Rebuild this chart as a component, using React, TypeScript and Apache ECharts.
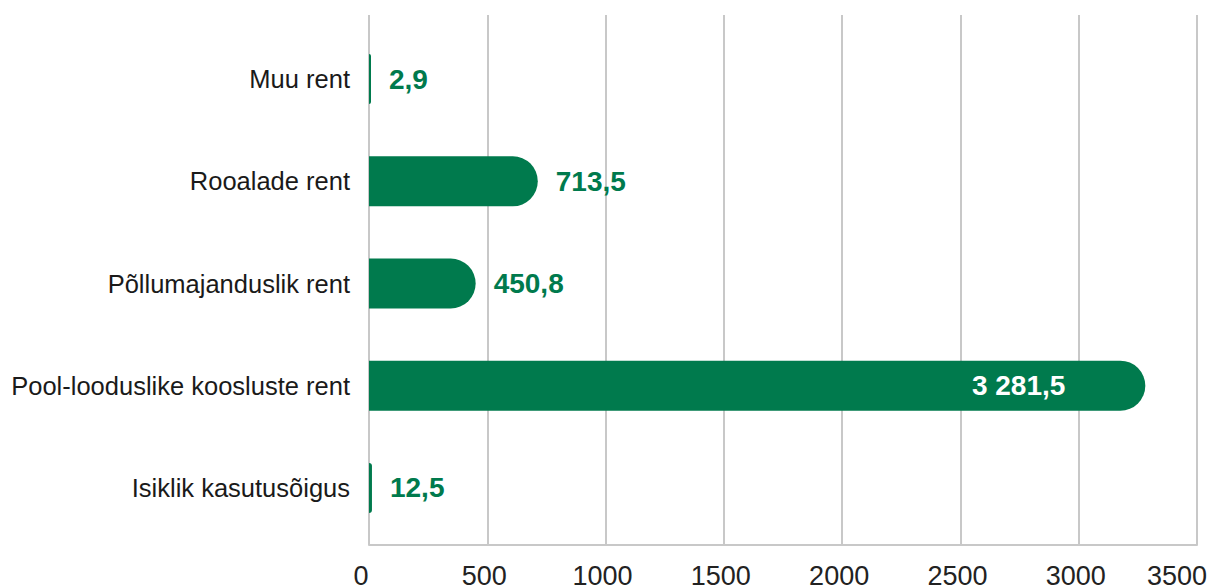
import React, { useEffect, useRef } from "react";
import * as echarts from "echarts";

const categories = [
  "Muu rent",
  "Rooalade rent",
  "Põllumajanduslik rent",
  "Pool-looduslike koosluste rent",
  "Isiklik kasutusõigus",
];
const values = [2.9, 713.5, 450.8, 3281.5, 12.5];
const insideLabelIndex = [3];
const xTicks = [0, 500, 1000, 1500, 2000, 2500, 3000, 3500];

const GREEN = "#007A4D";
const FONT = "'Liberation Sans', Arial, sans-serif";

function fmt(v: number): string {
  const s = v.toFixed(1);
  const [intPart, dec] = s.split(".");
  const withSep = intPart.replace(/\B(?=(\d{3})+(?!\d))/g, " ");
  return withSep + "," + dec;
}

export default function App() {
  const ref = useRef<HTMLDivElement>(null);
  useEffect(() => {
    if (!ref.current) return;
    const chart = echarts.init(ref.current, undefined, { renderer: "svg" });
    const xMin = xTicks[0];
    const xMax = xTicks[xTicks.length - 1];
    const step = xTicks[1] - xTicks[0];
    const tickStyle = {
      color: "#222222",
      fontSize: 27,
      fontFamily: FONT,
    };
    chart.setOption({
      animation: false,
      backgroundColor: "#ffffff",
      grid: [
        { left: 369, right: 15, top: 15, bottom: 42, outerBoundsMode: "none", containLabel: false },
        { left: 369, right: 15, top: 28, bottom: 48, outerBoundsMode: "none", containLabel: false },
      ],
      xAxis: [
        {
          type: "value",
          gridIndex: 0,
          min: xMin,
          max: xMax,
          interval: step,
          axisLine: { show: true, lineStyle: { color: "#c8c8c8", width: 2 } },
          axisTick: { show: false },
          splitLine: { show: true, lineStyle: { color: "#c8c8c8", width: 2 } },
          axisLabel: {
            ...tickStyle,
            margin: 17,
            showMaxLabel: true,
            showMinLabel: true,
            hideOverlap: false,
            overflow: "none",
            formatter: (v: number) => {
              if (v === xMin) return `{z|${v}}`;
              if (v === xMax) return `{m|${v}}`;
              return `{a|${v}}`;
            },
            rich: {
              a: { ...tickStyle, padding: [0, 6, 0, 0] },
              z: { ...tickStyle, padding: [0, 16, 0, 0] },
              m: { ...tickStyle, padding: [0, 40, 0, 0] },
            },
          },
        },
        {
          type: "value",
          gridIndex: 1,
          min: xMin,
          max: xMax,
          show: false,
        },
      ],
      yAxis: [
        {
          type: "value",
          gridIndex: 0,
          show: false,
          min: 0,
          max: 1,
        },
        {
          type: "category",
          gridIndex: 1,
          data: categories,
          inverse: true,
          axisLine: { show: false },
          axisTick: { show: false },
          splitLine: { show: false },
          axisLabel: {
            color: "#1a1a1a",
            fontSize: 25.5,
            fontFamily: FONT,
            margin: 19,
          },
        },
      ],
      series: [
        {
          type: "bar",
          xAxisIndex: 1,
          yAxisIndex: 1,
          barWidth: 50,
          barMinHeight: 2,
          z: 5,
          itemStyle: { color: GREEN, borderRadius: [0, 25, 25, 0] },
          data: values.map((v, i) => {
            const inside = insideLabelIndex.includes(i);
            return {
              value: v,
              label: inside
                ? {
                    show: true,
                    position: "insideRight",
                    distance: 80,
                    color: "#ffffff",
                    fontSize: 28,
                    fontWeight: "bold",
                    fontFamily: FONT,
                    formatter: () => fmt(v),
                  }
                : {
                    show: true,
                    position: "right",
                    distance: 18,
                    color: GREEN,
                    fontSize: 28,
                    fontWeight: "bold",
                    fontFamily: FONT,
                    formatter: () => fmt(v),
                  },
            };
          }),
        },
      ],
    });
    return () => chart.dispose();
  }, []);
  return (
    <div
      ref={ref}
      style={{ position: "fixed", left: 0, top: 0, width: 1212, height: 587 }}
    />
  );
}
